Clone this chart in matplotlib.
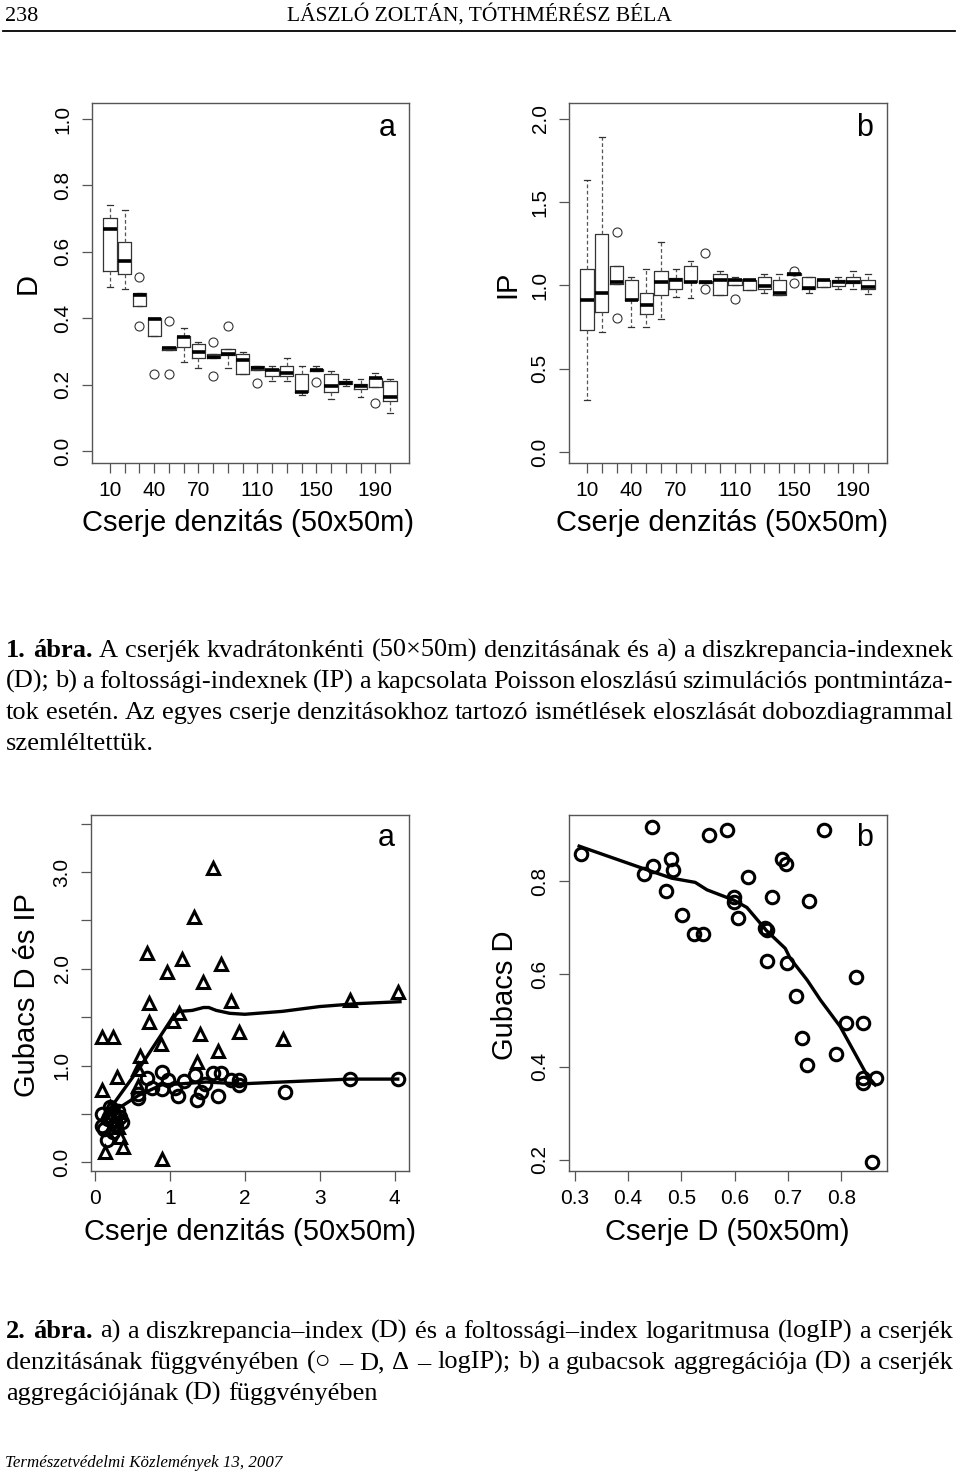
import matplotlib
matplotlib.use('Agg')
import matplotlib.pyplot as plt
import numpy as np

plt.rcParams['font.family'] = ['Liberation Sans', 'DejaVu Sans']

# --- 1. abra: box plots (20 cserje denzitas, 10..200) ---
dens = list(range(10, 201, 10))
dens_labels = ['10', '', '', '40', '', '', '70', '', '', '', '110', '', '', '', '150', '', '', '', '190', '']

# a) D
d_med = [0.668, 0.572, 0.470, 0.397, 0.309, 0.342, 0.299, 0.283, 0.293, 0.274,
         0.251, 0.244, 0.234, 0.179, 0.244, 0.196, 0.206, 0.196, 0.219, 0.162]
d_q1 = [0.542, 0.533, 0.437, 0.347, 0.305, 0.312, 0.279, 0.279, 0.289, 0.233,
        0.244, 0.226, 0.226, 0.179, 0.242, 0.177, 0.201, 0.186, 0.194, 0.152]
d_q3 = [0.701, 0.628, 0.475, 0.402, 0.313, 0.347, 0.322, 0.291, 0.306, 0.291,
        0.256, 0.247, 0.257, 0.232, 0.247, 0.232, 0.211, 0.201, 0.221, 0.210]
d_lo = [0.495, 0.487, 0.437, 0.347, 0.305, 0.267, 0.251, 0.279, 0.251, 0.233,
        0.244, 0.212, 0.212, 0.169, 0.242, 0.156, 0.196, 0.164, 0.194, 0.115]
d_hi = [0.741, 0.726, 0.475, 0.402, 0.313, 0.370, 0.327, 0.291, 0.306, 0.299,
        0.256, 0.256, 0.279, 0.256, 0.256, 0.241, 0.217, 0.217, 0.234, 0.216]
d_out = [[], [], [0.525, 0.377], [0.232], [0.392, 0.232], [], [], [0.327, 0.225], [0.376], [],
         [0.204], [], [], [], [0.207], [], [], [], [0.144], []]

# b) IP
ip_med = [0.910, 0.956, 1.022, 0.910, 0.881, 1.022, 1.036, 1.022, 1.022, 1.036,
          1.036, 1.036, 0.996, 0.952, 1.072, 0.986, 1.036, 1.022, 1.022, 0.992]
ip_q1 = [0.731, 0.841, 1.006, 0.910, 0.831, 0.940, 0.976, 1.022, 1.018, 0.942,
         1.004, 0.972, 0.976, 0.940, 1.066, 0.976, 0.992, 0.996, 1.016, 0.976]
ip_q3 = [1.100, 1.311, 1.120, 1.036, 0.956, 1.086, 1.046, 1.120, 1.026, 1.070,
         1.040, 1.036, 1.052, 1.036, 1.076, 1.052, 1.036, 1.036, 1.052, 1.036]
ip_lo = [0.313, 0.719, 1.006, 0.749, 0.749, 0.799, 0.932, 0.926, 1.018, 0.942,
         1.004, 0.972, 0.956, 0.940, 1.066, 0.956, 0.992, 0.976, 0.976, 0.946]
ip_hi = [1.633, 1.890, 1.120, 1.052, 1.100, 1.261, 1.100, 1.147, 1.026, 1.086,
         1.052, 1.036, 1.070, 1.070, 1.076, 1.052, 1.036, 1.052, 1.086, 1.070]
ip_out = [[], [], [1.321, 0.805], [], [], [], [], [], [1.193, 0.980], [],
          [0.920], [], [], [], [1.086, 1.016], [], [], [], [], []]

# --- 2. abra a): Gubacs D (kor) es logIP (haromszog) a cserje denzitas fuggvenyeben ---
tri_x = [0.72, 1.82, 3.40, 0.72, 1.13, 1.04, 0.09, 0.24, 1.40, 1.92, 2.51, 0.88, 1.64, 0.60,
         1.36, 0.58, 0.29, 0.09, 0.58, 0.20, 0.31, 0.33, 0.13, 0.37, 0.89, 1.58, 1.32, 0.69,
         0.96, 1.17, 1.69, 1.44, 4.04, 0.22, 0.27, 0.30]
tri_y = [1.45, 1.67, 1.68, 1.65, 1.54, 1.46, 1.30, 1.30, 1.33, 1.35, 1.27, 1.22, 1.15, 1.10,
         1.04, 0.96, 0.88, 0.75, 0.79, 0.57, 0.37, 0.26, 0.11, 0.16, 0.03, 3.04, 2.54, 2.16,
         1.97, 2.10, 2.05, 1.86, 1.76, 0.48, 0.44, 0.52]
circ_x = [0.89, 0.69, 0.98, 0.76, 0.89, 1.07, 1.11, 1.19, 1.33, 1.36, 1.42, 1.47, 1.58, 1.69,
          1.64, 1.82, 1.93, 1.93, 2.54, 3.40, 4.04, 0.58, 0.58, 0.09, 0.09, 0.20, 0.24, 0.31,
          0.36, 0.16, 0.24, 0.18, 0.28, 0.12, 0.33]
circ_y = [0.93, 0.87, 0.85, 0.77, 0.76, 0.77, 0.69, 0.84, 0.90, 0.64, 0.73, 0.81, 0.92, 0.92,
          0.69, 0.85, 0.85, 0.80, 0.73, 0.86, 0.86, 0.71, 0.66, 0.50, 0.38, 0.57, 0.50, 0.53,
          0.42, 0.23, 0.31, 0.45, 0.40, 0.34, 0.47]
tri_line_x = [0.10, 0.20, 0.60, 1.04, 1.13, 1.30, 1.45, 1.52, 1.62, 1.80, 2.00, 2.50, 3.00, 3.50, 4.07]
tri_line_y = [0.45, 0.55, 0.98, 1.50, 1.56, 1.57, 1.60, 1.60, 1.57, 1.54, 1.53, 1.56, 1.61, 1.64, 1.66]
circ_line_x = [0.10, 0.30, 0.58, 0.89, 1.13, 1.49, 1.93, 2.50, 3.40, 4.04]
circ_line_y = [0.42, 0.55, 0.69, 0.80, 0.81, 0.83, 0.81, 0.83, 0.86, 0.86]

# --- 2. abra b): Gubacs D a Cserje D fuggvenyeben ---
cd_x = [0.311, 0.444, 0.551, 0.585, 0.767, 0.447, 0.430, 0.480, 0.484, 0.471, 0.501, 0.524,
        0.540, 0.625, 0.598, 0.598, 0.606, 0.670, 0.689, 0.697, 0.740, 0.657, 0.660, 0.660,
        0.698, 0.828, 0.715, 0.809, 0.841, 0.726, 0.791, 0.736, 0.841, 0.841, 0.866, 0.858]
gd_y = [0.858, 0.917, 0.899, 0.910, 0.910, 0.832, 0.814, 0.847, 0.824, 0.779, 0.726, 0.687,
        0.686, 0.809, 0.765, 0.755, 0.720, 0.766, 0.847, 0.836, 0.758, 0.698, 0.694, 0.628,
        0.623, 0.594, 0.553, 0.495, 0.495, 0.462, 0.427, 0.404, 0.376, 0.365, 0.376, 0.196]
cd_line_x = [0.308, 0.428, 0.482, 0.526, 0.548, 0.598, 0.623, 0.660, 0.695, 0.704, 0.736,
             0.761, 0.798, 0.848, 0.864]
cd_line_y = [0.875, 0.827, 0.806, 0.797, 0.781, 0.759, 0.743, 0.693, 0.655, 0.634, 0.587,
             0.544, 0.487, 0.383, 0.361]

W, H = 960, 1472
fig = plt.figure(figsize=(W / 100, H / 100), dpi=100)
frame_col = '#555555'


def fx(x):
    return x / W


def fy(y):
    return 1 - y / H


def panel(l, t, r, b):
    ax = fig.add_axes([fx(l), fy(b), (r - l) / W, (b - t) / H])
    for s in ax.spines.values():
        s.set_color(frame_col)
        s.set_linewidth(1.0)
    ax.tick_params(direction='out', length=7, width=0.9, color=frame_col,
                   labelsize=15, pad=6)
    ax.tick_params(axis='y', labelrotation=90, pad=7)
    return ax


def boxes(ax, med, q1, q3, lo, hi, out):
    st = [dict(med=m, q1=a, q3=b, whislo=c, whishi=d, fliers=f)
          for m, a, b, c, d, f in zip(med, q1, q3, lo, hi, out)]
    ax.bxp(st, positions=dens, widths=9, capwidths=4, manage_ticks=False,
           boxprops=dict(color='#333333', lw=0.9),
           medianprops=dict(color='black', lw=2.6, solid_capstyle='butt'),
           whiskerprops=dict(color='#555555', lw=0.9, linestyle=(0, (3, 2))),
           capprops=dict(color='#333333', lw=0.9),
           flierprops=dict(marker='o', mfc='none', mec='#333333', ms=6.5, mew=0.8))
    ax.set_xlim(-2.2, 212.9)
    ax.set_xticks(dens)
    ax.set_xticklabels(dens_labels)


# 1. abra a
ax1 = panel(92, 103, 409, 463)
boxes(ax1, d_med, d_q1, d_q3, d_lo, d_hi, d_out)
ax1.set_ylim(-0.036, 1.048)
ax1.set_yticks([0, 0.2, 0.4, 0.6, 0.8, 1.0])
ax1.set_yticklabels(['0.0', '0.2', '0.4', '0.6', '0.8', '1.0'], va='center')
ax1.text(0.93, 0.93, 'a', transform=ax1.transAxes, fontsize=22, ha='center', va='center')

# 1. abra b
ax2 = panel(569, 103, 887, 463)
boxes(ax2, ip_med, ip_q1, ip_q3, ip_lo, ip_hi, ip_out)
ax2.set_ylim(-0.066, 2.096)
ax2.set_yticks([0, 0.5, 1.0, 1.5, 2.0])
ax2.set_yticklabels(['0.0', '0.5', '1.0', '1.5', '2.0'], va='center')
ax2.text(0.93, 0.93, 'b', transform=ax2.transAxes, fontsize=22, ha='center', va='center')

# 2. abra a
ax3 = panel(91, 815, 409, 1171)
ax3.plot(circ_x, circ_y, 'o', ms=9, mfc='none', mec='black', mew=2.2)
ax3.plot(tri_x, tri_y, '^', ms=9, mfc='none', mec='black', mew=2.2)
ax3.plot(tri_line_x, tri_line_y, color='black', lw=2.4)
ax3.plot(circ_line_x, circ_line_y, color='black', lw=2.4)
ax3.set_xlim(-0.05, 4.19)
ax3.set_ylim(-0.09, 3.59)
ax3.set_xticks([0, 1, 2, 3, 4])
ax3.set_yticks([0, 0.5, 1.0, 1.5, 2.0, 2.5, 3.0, 3.5])
ax3.set_yticklabels(['0.0', '', '1.0', '', '2.0', '', '3.0', ''], va='center')
ax3.text(0.93, 0.935, 'a', transform=ax3.transAxes, fontsize=22, ha='center', va='center')

# 2. abra b
ax4 = panel(569, 815, 887, 1171)
ax4.plot(cd_x, gd_y, 'o', ms=9, mfc='none', mec='black', mew=2.2)
ax4.plot(cd_line_x, cd_line_y, color='black', lw=2.4)
ax4.set_xlim(0.289, 0.886)
ax4.set_ylim(0.176, 0.942)
ax4.set_xticks([0.3, 0.4, 0.5, 0.6, 0.7, 0.8])
ax4.set_xticklabels(['0.3', '0.4', '0.5', '0.6', '0.7', '0.8'])
ax4.set_yticks([0.2, 0.4, 0.6, 0.8])
ax4.set_yticklabels(['0.2', '0.4', '0.6', '0.8'], va='center')
ax4.text(0.93, 0.935, 'b', transform=ax4.transAxes, fontsize=22, ha='center', va='center')

# tengelyfeliratok
lab = dict(fontsize=21, ha='center', va='center')
fig.text(fx(248), fy(523), 'Cserje denzitás (50x50m)', **lab)
fig.text(fx(722), fy(523), 'Cserje denzitás (50x50m)', **lab)
fig.text(fx(250), fy(1232), 'Cserje denzitás (50x50m)', **lab)
fig.text(fx(727), fy(1232), 'Cserje D (50x50m)', **lab)
fig.text(fx(28), fy(284), 'D', rotation=90, **lab)
fig.text(fx(507), fy(284), 'IP', rotation=90, **lab)
fig.text(fx(27), fy(995), 'Gubacs D és IP', rotation=90, **lab)
fig.text(fx(505), fy(995), 'Gubacs D', rotation=90, **lab)

# fejlec, labjegyzet
serif = 'Liberation Serif'
serif_fb = ['Liberation Serif', 'DejaVu Sans']
fig.text(fx(5), fy(21), '238', fontsize=16, family=serif, va='baseline')
fig.text(fx(479), fy(21), 'LÁSZLÓ ZOLTÁN, TÓTHMÉRÉSZ BÉLA', fontsize=15.5, family=serif,
         ha='center', va='baseline')
fig.add_artist(plt.Line2D([fx(3), fx(955)], [fy(31), fy(31)], color='black', lw=1.3))
fig.text(fx(5), fy(1467), 'Természetvédelmi Közlemények 13, 2007', fontsize=12.2,
         family=serif, style='italic', va='baseline')

renderer = fig.canvas.get_renderer()


def line_text(text, ybase, bold_words=0, justify=True, x0=6, x1=953, size=19):
    words = text.split(' ')
    objs = []
    for i, w in enumerate(words):
        fam = serif_fb if '○' in w else serif
        objs.append(fig.text(0, fy(ybase), w, fontsize=size, family=fam, va='baseline',
                             weight='bold' if i < bold_words else 'normal'))
    widths = [o.get_window_extent(renderer).width for o in objs]
    gap = size * 100 / 72 * 0.25
    if justify and len(words) > 1:
        gap = max((x1 - x0 - sum(widths)) / (len(words) - 1), 3)
    x = x0
    for o, w in zip(objs, widths):
        o.set_x(fx(x))
        x += w + gap


cap1 = ['1. ábra. A cserjék kvadrátonkénti (50×50m) denzitásának és a) a diszkrepancia-indexnek',
        '(D); b) a foltossági-indexnek (IP) a kapcsolata Poisson eloszlású szimulációs pontmintáza-',
        'tok esetén. Az egyes cserje denzitásokhoz tartozó ismétlések eloszlását dobozdiagrammal',
        'szemléltettük.']
cap2 = ['2. ábra. a) a diszkrepancia–index (D) és a foltossági–index logaritmusa (logIP) a cserjék',
        'denzitásának függvényében (○ – D, Δ – logIP); b) a gubacsok aggregációja (D) a cserjék',
        'aggregációjának (D) függvényében']

for i, t in enumerate(cap1):
    line_text(t, 657 + 31 * i, bold_words=2 if i == 0 else 0, justify=i < len(cap1) - 1)
for i, t in enumerate(cap2):
    line_text(t, 1338 + 31 * i, bold_words=2 if i == 0 else 0, justify=i < len(cap2) - 1)

fig.savefig('out.png', dpi=100)
